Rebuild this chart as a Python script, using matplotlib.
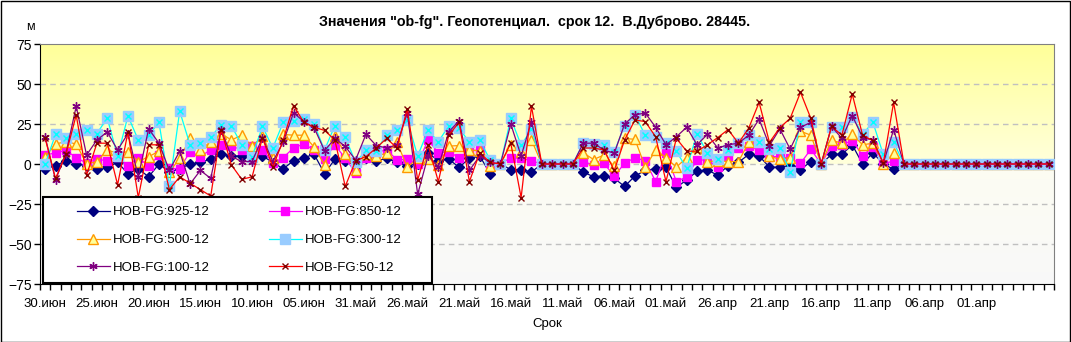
import numpy as np
import matplotlib
matplotlib.use('Agg')
import matplotlib.pyplot as plt
from matplotlib.patches import Rectangle
from matplotlib.lines import Line2D

plt.rcParams['font.family'] = ['Liberation Sans', 'DejaVu Sans']

# tick labels (every 5th day, going back in time from 30 June)
date_labels = ["30.июн", "25.июн", "20.июн", "15.июн", "10.июн", "05.июн", "31.май",
               "26.май", "21.май", "16.май", "11.май", "06.май", "01.май", "26.апр",
               "21.апр", "16.апр", "11.апр", "06.апр", "01.апр"]
n_days = 98

# ob-fg values, metres (index 0 = 30 June, one value per day)
s925 = [-3, -1, 2, 0, -1, -3, -2, 1, -6, -3, -8, 0, -5, -3, 0, 1, 3, 6, 5, 5,
        3, 5, 1, -3, 2, 4, 6, -6, 3, 2, -1, 4, 2, 3.5, 1, -1, 0, 7, 2, 3,
        -2, 3.5, 5, -6, 0, -3.5, -3.5, -5, 0, 0, 0, 0, -5, -8, -7.5, -9, -14, -7.5, -4, -3,
        -2, -14.6, -10, -4.5, -3.75, -7, -1, 1, 6, 5, -2, -2, -1.5, -3.5, 1.5, 0, 6, 6, 12, 0,
        7, 0, -3.3] + [0] * 15
s850 = [5.5, 7, 8.5, 4, 0.5, 3, 2, 4.5, -1, 4, -1.5, 5.5, -2.7, -3, 7.7, 4.6, 9, 12, 11, 9,
        11, 9, 0.4, 4, 10, 12.5, 8.75, 3, 12, 3.5, -5.4, 4, 7, 9, 2.5, 3, 0, 15, 7, 7.7,
        4, 8.3, 8.75, 0, 0, 4, 3.5, 2, 0, 0, 0, 0, 1.5, -0.6, 0.4, -7.5, 0.4, 4, 2, -11,
        7, -11, -8, 2.5, 2.5, -1.7, 5, 9.8, 11.5, 8.5, 4.6, 4.6, 3.5, 0.4, 9.2, 0, 11.5, 12, 14.6, 5.3,
        10.5, 0, 2] + [0] * 15
s500 = [4.5, 12.5, 14, 12.5, 0, 1.5, 8.75, 6.7, 7.7, 1.5, 4.6, 8, -5, 3.5, 16, 8.75, 14, 19, 15, 18,
        11, 17.5, 4, 18.5, 18, 18, 10.5, -0.6, 17.5, 6.5, -4, 6, 5, 6.7, 13.5, -2, 3.5, 3, -0.6, 11.2,
        11.5, 9, 8, -1.5, 0, 12, 7.7, 15, 0, 0, 0, 0, 7, 2.8, 5.6, -1.5, 16, 15.4, -2, 8.75,
        4, -2, 4, 10.5, 1.5, 2, 1.5, 1.5, 13.5, 15, 4.8, 3, 4, 20.5, 18, 0, 14.8, 13, 18.5, 12,
        13, 0, 6.7] + [0] * 15
s300 = [0, 18.5, 16.5, 19, 21, 19, 28.8, 4.8, 30, 15, 18, 26, -14, 33, 12, 13.2, 16.8, 24.5, 23.8, 12,
        4.6, 23.5, 10, 26, 26.8, 28, 24.7, 8.75, 24, 16.8, 1, 8.5, 8.3, 18.4, 21, 27.3, 5, 21, 14, 23.75,
        22.5, 13.5, 15, 2.5, 0, 28.5, 11.8, 21.7, 0, 0, 0, 0, 13, 12.5, 11.8, 7.7, 24, 30.5, 18, 16.7,
        13, 7.9, -2.7, 19, 6.8, 3.2, 8.75, 13.3, 18, 13.8, 9.6, 9.8, -4.8, 26.3, 26.3, 0, 23, 23, 29.6, 18.75,
        26, 6, 13.5] + [0] * 15
s100 = [17, -10, 6.5, 36, 5.6, 15, 20, 8.75, 19, -8, 22, 13, -4, 8, -12.5, -4, -9, 21.5, 4.8, 1.5,
        1.5, 16.5, 1.5, 13.5, 32, 26.5, 22.6, 8.3, 16, 11, 2.5, 18.5, 11.5, 10, 12, 32, -19, 5, -1.7, 20,
        27, -4, 5, 1, 0, 25, 5, 26.5, 0, 0, 0, 0, 13, 13, 8.75, 6.7, 25, 30.8, 31.8, 23,
        12, 17, 23, 12, 18.5, 10, 12, 13, 18, 28, 11.5, 22, 9.3, 23, 26, 0, 23.5, 16, 30.3, 16.5,
        15, 0.4, 21.5] + [0] * 15
s50 = [16, -9, 6, 30.6, -7, 13, 13, -13, 20, -21, 12, 12, -16, -8, -12, -16, -20, 21.5, -0.6, -9.6,
       -8, 16.5, -2, 15, 36.5, 26, 23, 21, 15, -14, 2, 4.6, 10, 16, 10, 34.5, -10, 12, -11, 18,
       26, -11, 7, 1, 0, 13, -21, 36, 0, 0, 0, 0, 10, 10, 8.75, -4, 15, 27.5, 26.5, 17,
       -11, 16, 8, 8, 12, 16.5, 21.5, 13, 22.5, 38.5, 13.5, 22.7, 28.5, 44.8, 28.5, 0, 23.5, 18, 43.7, 18,
       14.5, 0.4, 38.5] + [0] * 15

W, H = 1071, 342
fig = plt.figure(figsize=(W / 100, H / 100), dpi=100)
ax = fig.add_axes([40 / W, 1 - 284 / H, 1014 / W, 240 / H])

# plot area fill: yellow gradient above zero, pale below
grad = np.ones((200, 1, 3))
t = np.linspace(0, 1, 100)[:, None]
top = np.array([1.0, 1.0, 0.60]) * (1 - t) + np.array([1.0, 1.0, 0.86]) * t
bot = np.array([0.99, 0.99, 0.95]) * (1 - t) + np.array([0.975, 0.975, 0.975]) * t
grad[:100, 0, :] = top
grad[100:, 0, :] = bot
ax.imshow(grad, extent=[-0.5, n_days - 0.5, -75, 75], aspect='auto', zorder=0)

for yv in [50, 25, 0, -25, -50]:
    ax.axhline(yv, color='#c0c0c0', lw=1, ls=(0, (4, 3)), zorder=1)

x = np.arange(n_days)
lw = 0.9
ax.plot(x, s925, color='#000080', lw=lw, marker='D', ms=5, mfc='#000080', mec='#000080', zorder=2)
ax.plot(x, s850, color='#ff00ff', lw=lw, marker='s', ms=5.5, mfc='#ff00ff', mec='#ff00ff', zorder=3)
ax.plot(x, s500, color='#ff9900', lw=lw, marker='^', ms=6.5, mfc='#ffff99', mec='#ff9900', mew=1, zorder=4)
ax.plot(x, s300, color='#00ffff', lw=lw, marker='s', ms=6.5, mfc='#99ccff', mec='#99ccff', zorder=5)
ax.plot(x, s300, ls='none', marker='x', ms=4, mec='#00ffff', mew=1, zorder=5)
ax.plot(x, s100, color='#800080', lw=lw, marker=(6, 2, 0), ms=6, mec='#800080', mew=1, zorder=6)
ax.plot(x, s50, color='#ff0000', lw=lw, marker='x', ms=5, mec='#800000', mew=1, zorder=7)

ax.set_xlim(-0.5, n_days - 0.5)
ax.set_ylim(-75, 75)
ax.set_yticks([75, 50, 25, 0, -25, -50, -75])
ax.tick_params(axis='y', direction='out', length=4, width=1, labelsize=10, pad=2)
ax.set_xticks(np.arange(0, 5 * len(date_labels), 5))
ax.set_xticklabels(date_labels, fontsize=9.5)
ax.set_xticks(np.arange(-0.5, n_days, 1), minor=True)
ax.tick_params(axis='x', which='major', length=0, pad=10)
ax.tick_params(axis='x', which='minor', direction='out', length=4, width=1)
ax.spines['top'].set_color('#808080')
ax.spines['right'].set_color('#808080')
ax.set_xlabel("Срок", fontsize=9.5, labelpad=6)

fig.text(30 / W, 1 - 27 / H, "м", fontsize=9, ha='center', va='center')
fig.text(535 / W, 1 - 22 / H, 'Значения "ob-fg". Геопотенциал.  срок 12.  В.Дуброво. 28445.',
         fontsize=10.3, fontweight='bold', ha='center', va='center')

# legend box drawn separately, entries row-wise
fig.patches.append(Rectangle((43 / W, 1 - 283 / H), 389 / W, 86 / H, transform=fig.transFigure,
                             facecolor='white', edgecolor='black', lw=1.5, zorder=4))
handles = [
    Line2D([], [], color='#000080', lw=lw, marker='D', ms=5, mfc='#000080', mec='#000080'),
    Line2D([], [], color='#ff9900', lw=lw, marker='^', ms=6.5, mfc='#ffff99', mec='#ff9900'),
    Line2D([], [], color='#800080', lw=lw, marker=(6, 2, 0), ms=6, mec='#800080'),
    Line2D([], [], color='#ff00ff', lw=lw, marker='s', ms=5.5, mfc='#ff00ff', mec='#ff00ff'),
    Line2D([], [], color='#00ffff', lw=lw, marker='s', ms=6.5, mfc='#99ccff', mec='#99ccff'),
    Line2D([], [], color='#ff0000', lw=lw, marker='x', ms=5, mec='#800000'),
]
labels = ["HOB-FG:925-12", "HOB-FG:500-12", "HOB-FG:100-12",
          "HOB-FG:850-12", "HOB-FG:300-12", "HOB-FG:50-12"]
leg = fig.legend(handles, labels, ncol=2, loc='center left',
                 bbox_to_anchor=(77 / W, 1 - 240 / H),
                 fontsize=9.5, frameon=False, handlelength=2.5,
                 labelspacing=1.18, borderpad=0, handletextpad=0.25,
                 columnspacing=4.45, borderaxespad=0)
leg.set_zorder(5)

fig.patches.append(Rectangle((0.5 / W, 0.5 / H), 1 - 1.5 / W, 1 - 1.5 / H, transform=fig.transFigure,
                             fill=False, edgecolor='black', lw=1))

fig.savefig('out.png', dpi=100)
